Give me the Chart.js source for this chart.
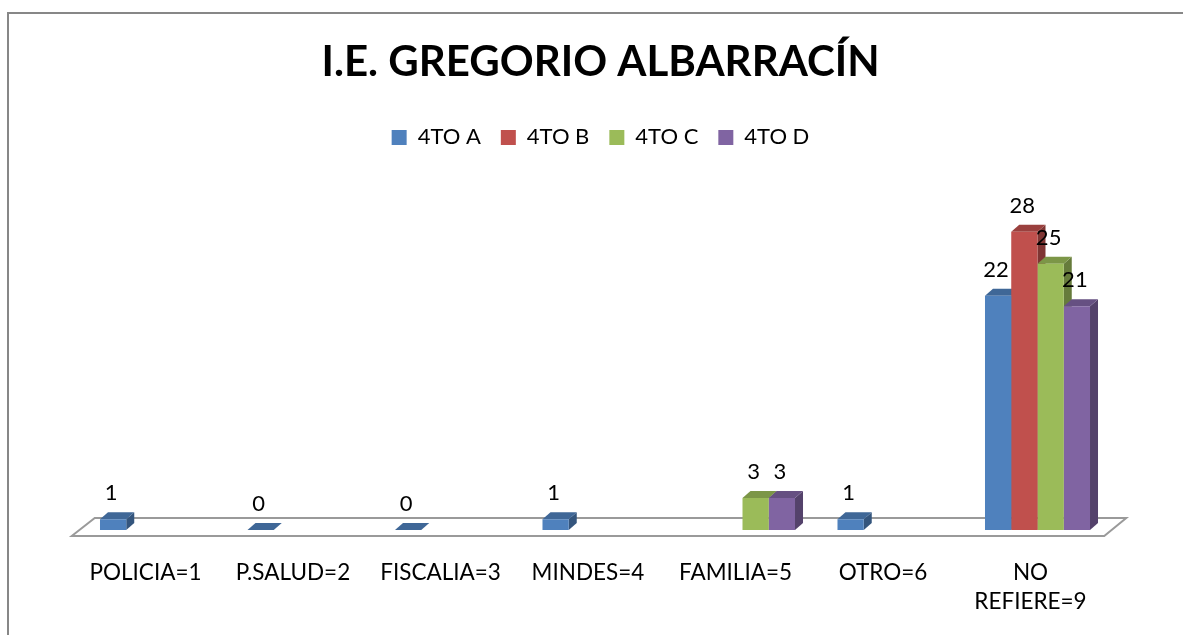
<!DOCTYPE html>
<html>
<head>
<meta charset="utf-8">
<script src="https://cdn.jsdelivr.net/npm/chart.js@4.4.1/dist/chart.umd.min.js"></script>
<style>
  html, body { margin: 0; padding: 0; background: #fff; }
  #wrap { width: 1183px; height: 635px; }
</style>
</head>
<body>
<div id="wrap"><canvas id="alumnosChart"></canvas></div>
<script>
// data (null = no bar in that slot)
const categories = ['POLICIA=1', 'P.SALUD=2', 'FISCALIA=3', 'MINDES=4', 'FAMILIA=5', 'OTRO=6', ['NO', 'REFIERE=9']];
const seriesNames = ['4TO A', '4TO B', '4TO C', '4TO D'];
const cuartoA = [1, 0, 0, 1, null, 1, 22];
const cuartoB = [null, null, null, null, null, null, 28];
const cuartoC = [null, null, null, null, 3, null, 25];
const cuartoD = [null, null, null, null, 3, null, 21];
const yMax = 30;

const colors = ['#4F81BD', '#C0504D', '#9BBB59', '#8064A2'];
const FONT = 'Lato, "Open Sans", sans-serif';
const DX = 8, DY = 7;

function shade(hex, f) {
  const n = parseInt(hex.slice(1), 16);
  const r = Math.round(((n >> 16) & 255) * f);
  const g = Math.round(((n >> 8) & 255) * f);
  const b = Math.round((n & 255) * f);
  return `rgb(${r},${g},${b})`;
}

// pseudo 3D: floor, side and top faces, value labels
const bar3d = {
  id: 'bar3d',
  beforeInit(chart) {
    const fit = chart.legend.fit;
    chart.legend.fit = function () {
      fit.bind(chart.legend)();
      this.height += 52;
    };
  },
  beforeDraw(chart) {
    const ctx = chart.ctx;
    ctx.save();
    ctx.strokeStyle = '#878787';
    ctx.lineWidth = 2;
    ctx.beginPath();
    ctx.moveTo(8, 640);
    ctx.lineTo(8, 13);
    ctx.lineTo(1190, 13);
    ctx.stroke();
    ctx.restore();
  },
  beforeDatasetsDraw(chart) {
    const ctx = chart.ctx;
    const base = chart.scales.y.getPixelForValue(0);
    const { left, right } = chart.chartArea;
    ctx.save();
    ctx.beginPath();
    ctx.moveTo(left - 7, base + 6);
    ctx.lineTo(left + 16, base - 12);
    ctx.lineTo(right + 15, base - 12);
    ctx.lineTo(right - 7, base + 6);
    ctx.closePath();
    ctx.fillStyle = '#fff';
    ctx.fill();
    ctx.strokeStyle = '#9a9a9a';
    ctx.lineWidth = 2;
    ctx.stroke();

    for (let i = 0; i < categories.length; i++) {
      chart.data.datasets.forEach((ds, d) => {
        if (ds.data[i] === null) return;
        const bar = chart.getDatasetMeta(d).data[i];
        const l = bar.x - bar.width / 2, r = bar.x + bar.width / 2;
        const t = bar.y, b = bar.base;
        // side
        ctx.beginPath();
        ctx.moveTo(r, t);
        ctx.lineTo(r + DX, t - DY);
        ctx.lineTo(r + DX, b - DY);
        ctx.lineTo(r, b);
        ctx.closePath();
        ctx.fillStyle = shade(colors[d], 0.66);
        ctx.fill();
        // top
        ctx.beginPath();
        ctx.moveTo(l, t);
        ctx.lineTo(l + DX, t - DY);
        ctx.lineTo(r + DX, t - DY);
        ctx.lineTo(r, t);
        ctx.closePath();
        ctx.fillStyle = shade(colors[d], 0.8);
        ctx.fill();
      });
    }
    ctx.restore();
  },
  afterDatasetsDraw(chart) {
    const ctx = chart.ctx;
    ctx.save();
    ctx.font = '22px ' + FONT;
    ctx.fillStyle = '#000';
    ctx.textAlign = 'center';
    ctx.textBaseline = 'middle';
    chart.data.datasets.forEach((ds, d) => {
      chart.getDatasetMeta(d).data.forEach((bar, i) => {
        if (ds.data[i] === null) return;
        ctx.fillText(String(ds.data[i]), bar.x - 2, bar.y - 26);
      });
    });
    ctx.restore();
  }
};

const seriesData = [cuartoA, cuartoB, cuartoC, cuartoD];
const hiddenAxis = (w, pos) => ({
  position: pos,
  display: true,
  min: 0,
  max: yMax,
  grid: { display: false, drawTicks: false },
  border: { display: false },
  ticks: { display: false },
  afterFit(scale) { scale.width = w; }
});

new Chart(document.getElementById('alumnosChart'), {
  type: 'bar',
  data: {
    labels: categories,
    datasets: seriesNames.map((name, k) => ({
      label: name,
      data: seriesData[k],
      backgroundColor: colors[k],
      borderWidth: 0,
      categoryPercentage: 0.712,
      barPercentage: 1
    }))
  },
  options: {
    responsive: true,
    maintainAspectRatio: false,
    animation: false,
    layout: { padding: { left: 18, right: 0, top: 0, bottom: 0 } },
    plugins: {
      title: {
        display: true,
        text: 'I.E. GREGORIO ALBARRACÍN',
        color: '#000',
        font: { family: FONT, size: 42, weight: 'bold' },
        padding: { top: 37, bottom: 19 }
      },
      legend: {
        position: 'top',
        labels: {
          color: '#000',
          boxWidth: 15,
          boxHeight: 15,
          padding: 20,
          font: { family: FONT, size: 22 }
        }
      },
      tooltip: { enabled: false }
    },
    scales: {
      x: {
        grid: { display: false, drawTicks: false },
        border: { display: false },
        afterFit(scale) { scale.height = 105; },
        ticks: {
          color: '#000',
          font: { family: FONT, size: 22.5, lineHeight: 1.29 },
          padding: 28,
          labelOffset: -7,
          maxRotation: 0,
          autoSkip: false
        }
      },
      y: hiddenAxis(60.75, 'left'),
      yRight: hiddenAxis(71.75, 'right')
    }
  },
  plugins: [bar3d]
});
</script>
</body>
</html>
